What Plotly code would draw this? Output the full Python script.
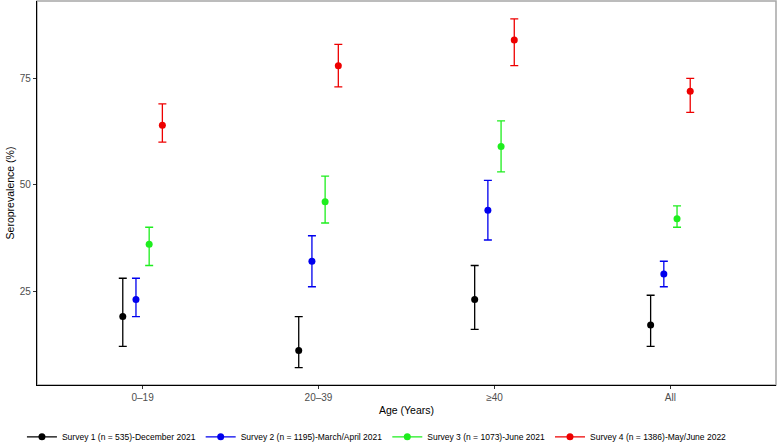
import plotly.graph_objects as go

age_groups = ["0\u201319", "20\u201339", "\u226540", "All"]

survey_names = [
    "Survey 1 (n = 535)-December 2021",
    "Survey 2 (n = 1195)-March/April 2021",
    "Survey 3 (n = 1073)-June 2021",
    "Survey 4 (n = 1386)-May/June 2022",
]
survey_colors = ["#000000", "#0000EE", "#1EEE1E", "#EE0000"]

# seroprevalence estimates (%) per age group
s1_est = [19, 11, 23, 17]
s1_low = [12, 7, 16, 12]
s1_high = [28, 19, 31, 24]

s2_est = [23, 32, 44, 29]
s2_low = [19, 26, 37, 26]
s2_high = [28, 38, 51, 32]

s3_est = [36, 46, 59, 42]
s3_low = [31, 41, 53, 40]
s3_high = [40, 52, 65, 45]

s4_est = [64, 78, 84, 72]
s4_low = [60, 73, 78, 67]
s4_high = [69, 83, 89, 75]

series = [
    (s1_est, s1_low, s1_high),
    (s2_est, s2_low, s2_high),
    (s3_est, s3_low, s3_high),
    (s4_est, s4_low, s4_high),
]

fig = go.Figure()
for i, (est, low, high) in enumerate(series):
    col = survey_colors[i]
    fig.add_trace(go.Scatter(
        x=age_groups, y=est, mode="markers",
        offsetgroup=str(i),
        marker=dict(color=col, size=7),
        error_y=dict(type="data", symmetric=False,
                     array=[h - e for h, e in zip(high, est)],
                     arrayminus=[e - l for e, l in zip(est, low)],
                     color=col, thickness=1.3, width=4),
        showlegend=False, name=survey_names[i],
    ))
for i in range(4):
    fig.add_trace(go.Scatter(
        x=[None], y=[None], mode="lines+markers",
        marker=dict(color=survey_colors[i], size=7),
        line=dict(color=survey_colors[i], width=1.3),
        name=survey_names[i], showlegend=True,
    ))

fig.update_layout(
    width=777, height=448,
    margin=dict(l=37, r=1, t=1, b=63, autoexpand=False),
    paper_bgcolor="white", plot_bgcolor="white",
    font=dict(family="Liberation Sans, Arial, sans-serif", color="#000000"),
    scattermode="group", scattergap=0.7,
    showlegend=True,
    legend=dict(orientation="h", x=0.46, xanchor="center", xref="paper",
                y=-0.135, yanchor="middle",
                font=dict(size=8.5, color="#000000"),
                itemwidth=30, tracegroupgap=0, bgcolor="rgba(0,0,0,0)"),
    shapes=[dict(type="rect", xref="paper", yref="paper", x0=0, x1=1, y0=0, y1=1,
                 line=dict(color="#A6A6A6", width=1.5), layer="below")],
)
fig.update_xaxes(
    type="category", range=[-0.6, 3.6], automargin=False,
    showline=True, linecolor="#000000", linewidth=1.2,
    ticks="outside", ticklen=3, tickcolor="#333333",
    tickfont=dict(size=10, color="#4D4D4D"),
    showgrid=False, zeroline=False,
    title=dict(text="Age (Years)", font=dict(size=10.5, color="#000000"), standoff=4),
)
fig.update_yaxes(
    range=[2.9, 93.2], tickvals=[25, 50, 75], automargin=False,
    showline=True, linecolor="#000000", linewidth=1.2,
    ticks="outside", ticklen=3, tickcolor="#333333",
    tickfont=dict(size=10, color="#4D4D4D"),
    showgrid=False, zeroline=False,
    title=dict(text="Seroprevalence (%)", font=dict(size=10.5, color="#000000"), standoff=3),
)

fig.write_html("out.html",
               config={"displayModeBar": False},
               post_script="document.body.style.margin='0';document.body.style.overflow='hidden';")
